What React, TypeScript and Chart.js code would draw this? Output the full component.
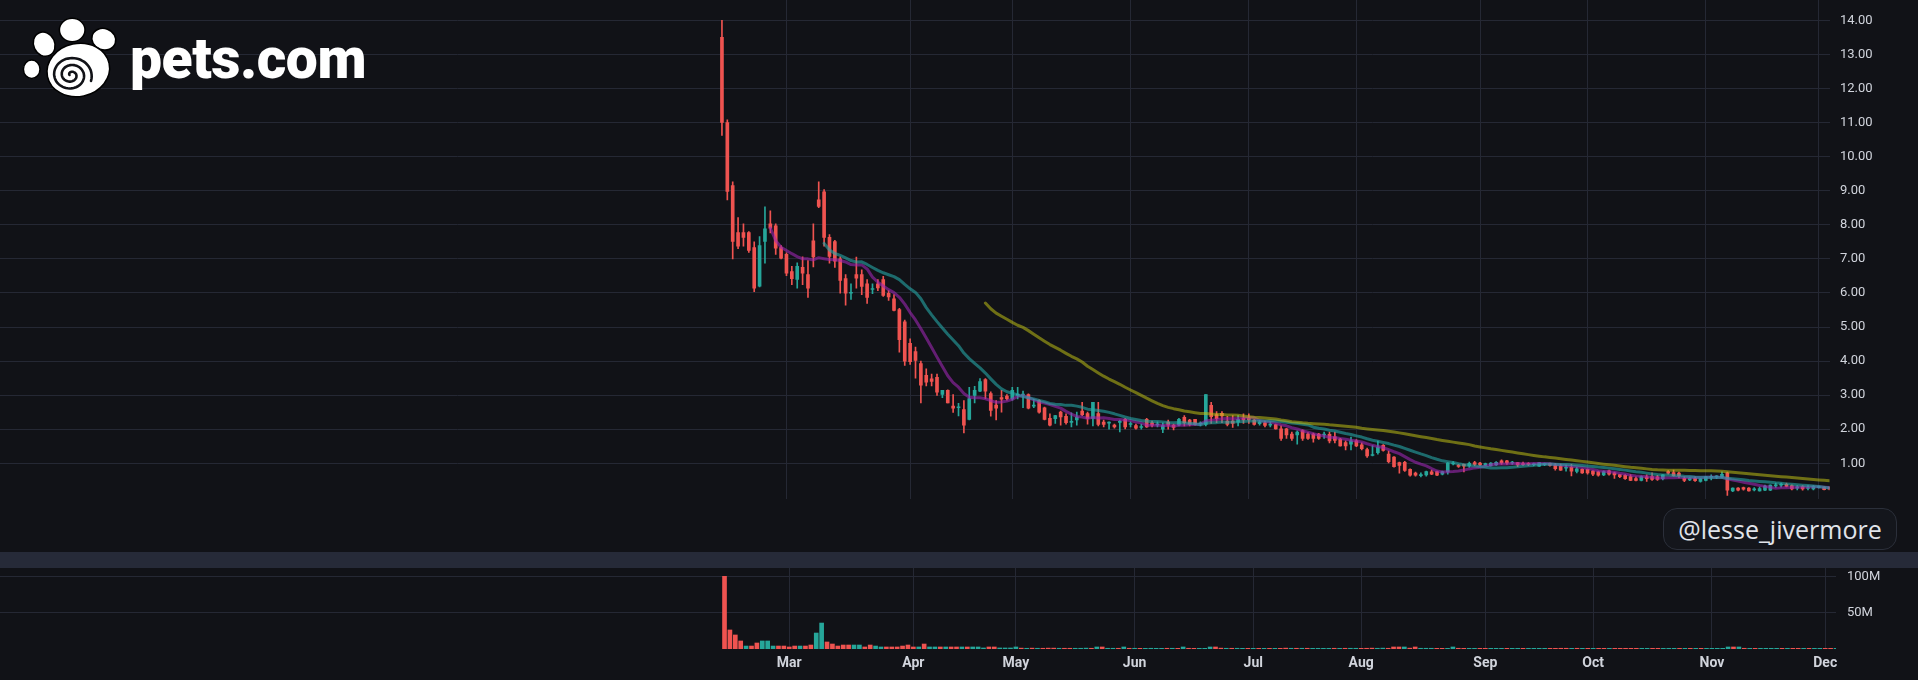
import React, { useEffect, useRef } from 'react';
import { Chart, registerables } from 'chart.js';

Chart.register(...registerables);

const BG = '#111217';
const GRID = '#252834';
const UP = '#26a69a';
const DOWN = '#ef5350';
const TEXT = '#d1d4dc';

const X_MIN = -134.28;
const X_MAX = 206.0;

const monthLabels = ['Mar', 'Apr', 'May', 'Jun', 'Jul', 'Aug', 'Sep', 'Oct', 'Nov', 'Dec'];
const monthStart = [12, 35, 54, 76, 98, 118, 141, 161, 183, 204];
const priceTicks = [1, 2, 3, 4, 5, 6, 7, 8, 9, 10, 11, 12, 13, 14];
const volumeTicks = [50, 100];

const opens = [
  13.50, 11.00, 9.15, 7.77, 7.77, 7.77, 7.33, 6.20, 7.51, 8.03,
  7.97, 7.33, 7.13, 6.63, 6.40, 6.75, 6.54, 7.53, 8.73, 8.97,
  7.63, 7.51, 7.00, 6.42, 5.99, 6.54, 6.54, 6.27, 6.10, 6.27,
  6.39, 5.99, 5.83, 5.51, 5.15, 4.52, 4.28, 3.93, 3.58, 3.48,
  3.52, 3.02, 3.14, 2.68, 2.63, 2.58, 2.29, 2.99, 3.12, 3.46,
  3.05, 2.71, 2.93, 2.97, 2.89, 3.00, 3.00, 3.02, 2.68, 2.84,
  2.63, 2.32, 2.31, 2.50, 2.38, 2.20, 2.27, 2.53, 2.46, 2.32,
  2.46, 2.21, 2.18, 2.12, 2.20, 2.29, 2.14, 2.11, 2.05, 2.29,
  2.19, 2.13, 2.00, 2.21, 2.12, 2.12, 2.35, 2.27, 2.29, 2.16,
  2.14, 2.70, 2.43, 2.47, 2.24, 2.24, 2.21, 2.33, 2.33, 2.27,
  2.16, 2.19, 2.12, 2.14, 2.01, 2.01, 1.86, 1.83, 1.96, 1.86,
  1.86, 1.86, 1.83, 1.85, 1.78, 1.71, 1.61, 1.56, 1.66, 1.54,
  1.40, 1.23, 1.31, 1.53, 1.27, 1.18, 1.02, 1.03, 0.82, 0.71,
  0.64, 0.66, 0.75, 0.76, 0.68, 0.75, 0.98, 0.95, 0.97, 0.93,
  1.02, 1.01, 0.94, 0.93, 0.95, 1.07, 1.07, 1.01, 1.02, 0.99,
  0.99, 0.96, 0.92, 0.96, 1.00, 0.95, 0.92, 0.86, 0.88, 0.76,
  0.82, 0.82, 0.77, 0.75, 0.66, 0.78, 0.72, 0.67, 0.65, 0.61,
  0.55, 0.50, 0.60, 0.61, 0.60, 0.55, 0.76, 0.73, 0.71, 0.56,
  0.51, 0.56, 0.47, 0.50, 0.59, 0.60, 0.59, 0.72, 0.19, 0.27,
  0.29, 0.27, 0.22, 0.19, 0.21, 0.21, 0.34, 0.36, 0.38, 0.35,
  0.27, 0.32, 0.26, 0.25, 0.29, 0.30, 0.30,
];

const highs = [
  14.00, 11.08, 9.26, 8.21, 8.03, 7.80, 7.50, 7.65, 8.53, 8.41,
  8.03, 7.39, 7.18, 6.78, 6.88, 7.06, 6.95, 8.03, 9.26, 9.03,
  7.71, 7.54, 7.06, 6.54, 6.27, 7.05, 6.68, 6.39, 6.27, 6.39,
  6.49, 6.07, 5.95, 5.55, 5.20, 4.65, 4.41, 4.00, 3.77, 3.62,
  3.62, 3.14, 3.16, 3.02, 2.76, 2.84, 3.23, 3.26, 3.49, 3.49,
  3.10, 2.84, 3.14, 3.02, 3.23, 3.23, 3.12, 3.04, 2.88, 2.86,
  2.65, 2.45, 2.41, 2.53, 2.45, 2.48, 2.50, 2.79, 2.50, 2.79,
  2.79, 2.27, 2.22, 2.15, 2.27, 2.32, 2.22, 2.15, 2.15, 2.32,
  2.24, 2.22, 2.19, 2.27, 2.15, 2.32, 2.40, 2.29, 2.29, 2.22,
  3.02, 2.79, 2.52, 2.52, 2.38, 2.40, 2.40, 2.45, 2.45, 2.29,
  2.26, 2.24, 2.22, 2.15, 2.10, 2.03, 1.92, 1.95, 1.98, 1.90,
  1.89, 1.88, 1.92, 1.92, 1.92, 1.73, 1.66, 1.77, 1.70, 1.60,
  1.45, 1.52, 1.65, 1.55, 1.36, 1.20, 1.04, 1.06, 0.84, 0.74,
  0.72, 0.77, 0.80, 0.77, 0.77, 1.02, 1.05, 0.97, 0.98, 1.04,
  1.06, 1.03, 1.01, 1.02, 1.05, 1.10, 1.09, 1.06, 1.03, 1.04,
  1.02, 1.01, 1.02, 1.01, 1.01, 1.00, 0.98, 0.95, 0.97, 0.88,
  0.84, 0.83, 0.79, 0.77, 0.78, 0.80, 0.74, 0.68, 0.67, 0.67,
  0.60, 0.63, 0.66, 0.72, 0.65, 0.67, 0.79, 0.80, 0.74, 0.60,
  0.58, 0.60, 0.56, 0.62, 0.66, 0.64, 0.75, 0.74, 0.28, 0.29,
  0.30, 0.29, 0.29, 0.30, 0.36, 0.37, 0.42, 0.42, 0.42, 0.37,
  0.35, 0.35, 0.35, 0.35, 0.33, 0.31, 0.31,
];

const lows = [
  10.62, 8.73, 7.00, 7.30, 7.37, 7.19, 6.04, 6.18, 6.87, 7.76,
  7.13, 7.00, 6.51, 6.24, 6.14, 6.24, 5.87, 6.76, 8.50, 7.37,
  6.87, 6.75, 5.99, 5.64, 5.81, 6.14, 5.95, 5.69, 5.98, 6.07,
  5.90, 5.78, 5.47, 4.26, 3.87, 3.90, 3.50, 2.77, 3.27, 3.27,
  2.99, 2.93, 2.77, 2.49, 2.39, 1.89, 2.27, 2.77, 3.10, 2.90,
  2.38, 2.27, 2.50, 2.85, 2.85, 2.89, 2.63, 2.60, 2.63, 2.47,
  2.27, 2.10, 2.17, 2.12, 2.15, 2.07, 2.12, 2.40, 2.15, 2.10,
  2.10, 2.07, 2.00, 2.03, 1.92, 2.01, 2.07, 2.00, 2.00, 2.05,
  2.07, 2.07, 1.90, 2.00, 1.98, 2.10, 2.10, 2.10, 2.12, 2.10,
  2.10, 2.17, 2.19, 2.19, 2.10, 2.05, 2.10, 2.17, 2.17, 2.12,
  2.12, 2.07, 2.07, 2.00, 1.67, 1.73, 1.67, 1.56, 1.67, 1.70,
  1.62, 1.70, 1.73, 1.60, 1.60, 1.50, 1.39, 1.39, 1.49, 1.39,
  1.17, 1.22, 1.27, 1.36, 1.01, 0.89, 0.71, 0.76, 0.62, 0.62,
  0.60, 0.62, 0.67, 0.64, 0.66, 0.68, 0.95, 0.88, 0.75, 0.88,
  0.93, 0.93, 0.93, 0.92, 0.94, 0.97, 0.97, 0.97, 0.90, 0.94,
  0.93, 0.93, 0.91, 0.93, 0.92, 0.80, 0.79, 0.77, 0.63, 0.72,
  0.70, 0.68, 0.64, 0.62, 0.64, 0.65, 0.56, 0.58, 0.53, 0.49,
  0.48, 0.48, 0.47, 0.50, 0.50, 0.51, 0.68, 0.62, 0.57, 0.46,
  0.49, 0.47, 0.45, 0.48, 0.51, 0.55, 0.57, 0.06, 0.17, 0.19,
  0.21, 0.18, 0.19, 0.18, 0.20, 0.20, 0.29, 0.30, 0.31, 0.22,
  0.22, 0.21, 0.22, 0.22, 0.27, 0.22, 0.22,
];

const closes = [
  11.00, 8.98, 7.51, 7.37, 7.63, 7.25, 6.14, 7.39, 7.88, 7.90,
  7.31, 7.02, 6.58, 6.42, 6.78, 6.58, 6.14, 7.06, 8.54, 7.63,
  7.07, 6.93, 6.37, 5.99, 6.02, 6.43, 6.19, 5.87, 6.13, 6.15,
  5.93, 5.88, 5.49, 4.63, 4.00, 3.98, 4.02, 3.29, 3.38, 3.40,
  3.09, 3.14, 2.77, 2.62, 2.65, 2.12, 2.90, 3.14, 3.40, 3.12,
  2.55, 2.62, 2.88, 2.90, 3.14, 3.02, 3.03, 2.62, 2.71, 2.50,
  2.29, 2.12, 2.40, 2.36, 2.19, 2.22, 2.36, 2.43, 2.32, 2.79,
  2.14, 2.14, 2.20, 2.07, 2.22, 2.07, 2.16, 2.03, 2.07, 2.07,
  2.12, 2.15, 2.11, 2.12, 2.05, 2.29, 2.19, 2.14, 2.14, 2.18,
  3.02, 2.37, 2.31, 2.39, 2.14, 2.17, 2.29, 2.27, 2.27, 2.14,
  2.21, 2.11, 2.14, 2.01, 1.73, 1.83, 1.73, 1.92, 1.73, 1.73,
  1.73, 1.73, 1.85, 1.66, 1.67, 1.51, 1.51, 1.66, 1.51, 1.43,
  1.22, 1.26, 1.48, 1.38, 1.05, 0.90, 0.94, 0.79, 0.65, 0.65,
  0.67, 0.76, 0.68, 0.65, 0.76, 1.01, 1.00, 0.91, 0.92, 1.00,
  0.97, 0.95, 0.99, 1.01, 1.03, 1.01, 1.01, 1.03, 0.95, 0.96,
  0.97, 0.98, 1.02, 0.98, 0.94, 0.84, 0.80, 0.88, 0.77, 0.84,
  0.72, 0.72, 0.68, 0.65, 0.76, 0.68, 0.66, 0.61, 0.55, 0.50,
  0.50, 0.61, 0.55, 0.53, 0.53, 0.66, 0.71, 0.64, 0.64, 0.50,
  0.56, 0.49, 0.55, 0.60, 0.61, 0.61, 0.68, 0.21, 0.27, 0.21,
  0.24, 0.19, 0.23, 0.26, 0.33, 0.36, 0.35, 0.37, 0.32, 0.25,
  0.31, 0.25, 0.28, 0.32, 0.30, 0.23, 0.24,
];

// volume in millions of shares
const volumes = [
  100.5, 26.3, 19.4, 11.1, 4.1, 4.1, 8.3, 11.1, 11.1, 4.1,
  4.1, 4.1, 2.8, 4.1, 4.1, 4.1, 5.5, 22.1, 35.9, 9.7,
  6.9, 4.1, 5.5, 5.5, 5.5, 5.5, 2.8, 5.5, 4.1, 2.8,
  2.8, 2.8, 2.8, 4.1, 5.5, 2.8, 2.8, 6.9, 2.8, 2.8,
  2.8, 2.8, 2.8, 2.8, 2.8, 2.8, 2.8, 2.8, 1.4, 2.8,
  2.8, 1.4, 1.4, 1.4, 2.8, 1.2, 1.0, 1.2, 1.0, 1.0,
  1.2, 1.2, 1.0, 1.0, 1.0, 1.0, 1.0, 1.2, 1.0, 2.8,
  2.8, 1.0, 1.0, 1.0, 2.8, 1.0, 1.0, 0.9, 0.9, 1.0,
  0.9, 0.9, 1.0, 1.0, 0.9, 2.8, 1.0, 0.9, 0.9, 0.9,
  2.8, 2.8, 1.2, 1.0, 1.0, 1.0, 0.9, 0.9, 0.9, 0.9,
  0.9, 0.9, 0.9, 0.9, 1.2, 1.0, 1.0, 1.0, 1.0, 0.9,
  0.9, 0.9, 0.9, 1.0, 0.9, 1.0, 1.0, 1.0, 0.9, 1.0,
  1.2, 1.0, 1.2, 1.0, 2.8, 2.8, 2.8, 1.2, 2.8, 1.0,
  1.0, 1.0, 0.9, 0.9, 0.9, 2.8, 1.0, 0.9, 0.9, 0.9,
  0.9, 0.9, 0.9, 0.9, 0.9, 0.9, 0.9, 0.9, 0.9, 0.9,
  0.9, 0.9, 0.9, 0.9, 0.9, 1.0, 1.0, 0.9, 1.0, 0.9,
  0.9, 0.9, 0.9, 0.9, 0.9, 0.9, 0.9, 0.9, 0.9, 0.9,
  0.9, 0.9, 0.9, 0.9, 0.9, 0.9, 0.9, 0.9, 0.9, 0.9,
  0.9, 0.9, 0.9, 0.9, 0.9, 0.9, 2.8, 2.8, 2.8, 1.0,
  0.9, 0.9, 0.9, 0.9, 0.9, 0.9, 0.9, 0.9, 0.9, 0.9,
  0.9, 0.9, 0.9, 0.9, 0.9, 0.9, 0.9,
];

const maPeriods = { fast: 10, mid: 20, slow: 50 };

function sma(values: number[], n: number) {
  const out: { x: number; y: number }[] = [];
  for (let i = n - 1; i < values.length; i++) {
    let s = 0;
    for (let k = i - n + 1; k <= i; k++) s += values[k];
    out.push({ x: i, y: s / n });
  }
  return out;
}

const zeroPad = (s: any) => {
  s.paddingLeft = 0;
  s.paddingRight = 0;
  s.paddingTop = 0;
  s.paddingBottom = 0;
};

function spiralPath() {
  let d = '';
  const steps = 140;
  for (let k = 0; k <= steps; k++) {
    const t = (k / steps) * 2.55 * 2 * Math.PI;
    const r = 1.5 + t * 1.22;
    const x = 71 + r * Math.cos(t + Math.PI);
    const y = 75 + r * Math.sin(t + Math.PI) * 0.9;
    d += (k ? 'L' : 'M') + x.toFixed(1) + ',' + y.toFixed(1);
  }
  return d;
}

export default function App() {
  const priceRef = useRef<HTMLCanvasElement>(null);
  const volRef = useRef<HTMLCanvasElement>(null);

  useEffect(() => {
    const idx = closes.map((_, i) => i);
    const candleColors = idx.map((i) => (closes[i] >= opens[i] ? UP : DOWN));
    const volColors = idx.map((i) =>
      i === 0 ? candleColors[0] : closes[i] >= closes[i - 1] ? UP : DOWN
    );
    const bodies = idx.map((i) => ({ x: i, y: [Math.min(opens[i], closes[i]), Math.max(opens[i], closes[i])] }));
    const wicks = idx.map((i) => ({ x: i, y: [lows[i], highs[i]] }));
    const vols = idx.map((i) => ({ x: i, y: volumes[i] }));

    const lineDs = (data: any, color: string) => ({
      type: 'line' as const,
      data,
      borderColor: color,
      borderWidth: 3,
      pointRadius: 0,
      tension: 0,
      borderJoinStyle: 'round' as const,
      borderCapStyle: 'round' as const,
      order: 0,
    });

    const price = new Chart(priceRef.current!, {
      type: 'bar',
      data: {
        datasets: [
          lineDs(sma(closes, maPeriods.slow), 'rgba(190,190,20,0.55)'),
          lineDs(sma(closes, maPeriods.mid), 'rgba(38,166,166,0.6)'),
          lineDs(sma(closes, maPeriods.fast), 'rgba(156,39,176,0.6)'),
          {
            type: 'bar',
            data: bodies as any,
            backgroundColor: candleColors,
            barThickness: 3,
            grouped: false,
            minBarLength: 1,
            order: 1,
          },
          {
            type: 'bar',
            data: wicks as any,
            backgroundColor: candleColors,
            barThickness: 1,
            grouped: false,
            order: 2,
          },
        ] as any,
      },
      options: {
        animation: false,
        responsive: false,
        maintainAspectRatio: false,
        layout: { padding: 0 },
        plugins: { legend: { display: false }, tooltip: { enabled: false } },
        scales: {
          x: {
            type: 'linear',
            min: X_MIN,
            max: X_MAX,
            offset: false,
            grid: { color: GRID, drawTicks: false, offset: false },
            border: { display: false },
            ticks: { display: false, autoSkip: false },
            afterBuildTicks: (s: any) => {
              s.ticks = monthStart.map((v) => ({ value: v }));
            },
            afterFit: (s: any) => {
              s.height = 0;
              zeroPad(s);
            },
          },
          y: {
            type: 'linear',
            position: 'right',
            min: -0.047,
            max: 14.596,
            grid: { color: GRID, drawTicks: false },
            border: { display: false },
            ticks: {
              color: TEXT,
              font: { family: 'Roboto', size: 13 },
              padding: 10.5,
              autoSkip: false,
              callback: (v: any) => Number(v).toFixed(2),
            },
            afterBuildTicks: (s: any) => {
              s.ticks = priceTicks.map((v) => ({ value: v }));
            },
            afterFit: (s: any) => {
              s.width = 88.5;
              zeroPad(s);
            },
          },
        },
      } as any,
    });

    const vol = new Chart(volRef.current!, {
      type: 'bar',
      data: {
        datasets: [
          {
            data: vols as any,
            backgroundColor: volColors,
            barThickness: 4,
            grouped: false,
          },
        ],
      },
      options: {
        animation: false,
        responsive: false,
        maintainAspectRatio: false,
        layout: { padding: 0 },
        plugins: { legend: { display: false }, tooltip: { enabled: false } },
        scales: {
          x: {
            type: 'linear',
            min: X_MIN,
            max: X_MAX,
            offset: false,
            grid: { color: GRID, drawTicks: false, offset: false },
            border: { display: false },
            ticks: {
              color: TEXT,
              font: { family: 'Roboto', size: 14, weight: 'bold' },
              padding: 6,
              autoSkip: false,
              maxRotation: 0,
              callback: (_v: any, i: number) => monthLabels[i],
            },
            afterBuildTicks: (s: any) => {
              s.ticks = monthStart.map((v) => ({ value: v }));
            },
            afterFit: (s: any) => {
              s.height = 31;
              zeroPad(s);
            },
          },
          y: {
            type: 'linear',
            position: 'right',
            min: 0,
            max: 112,
            grid: { color: GRID, drawTicks: false },
            border: { display: false },
            ticks: {
              color: TEXT,
              font: { family: 'Roboto', size: 13 },
              padding: 11,
              autoSkip: false,
              callback: (v: any) => `${v}M`,
            },
            afterBuildTicks: (s: any) => {
              s.ticks = volumeTicks.map((v) => ({ value: v }));
            },
            afterFit: (s: any) => {
              s.width = 82;
              zeroPad(s);
            },
          },
        },
      } as any,
    });

    return () => {
      price.destroy();
      vol.destroy();
    };
  }, []);

  return (
    <div
      style={{
        position: 'absolute',
        left: 0,
        top: 0,
        width: 1918,
        height: 680,
        background: BG,
        overflow: 'hidden',
      }}
    >
      <canvas
        ref={priceRef}
        width={1918}
        height={499}
        style={{ position: 'absolute', left: 0, top: 0, width: 1918, height: 499, display: 'block' }}
      />
      <div style={{ position: 'absolute', left: 0, top: 552, width: 1918, height: 16, background: '#262a38' }} />
      <canvas
        ref={volRef}
        width={1918}
        height={112}
        style={{ position: 'absolute', left: 0, top: 568, width: 1918, height: 112, display: 'block' }}
      />
      <svg width={420} height={110} style={{ position: 'absolute', left: 0, top: 0 }}>
        <g fill="#ffffff" stroke="#000000" strokeWidth={1.5}>
          <ellipse cx={31.7} cy={69.2} rx={8.3} ry={9.2} />
          <ellipse cx={44.2} cy={44.2} rx={10.6} ry={12.4} transform="rotate(-25 44.2 44.2)" />
          <ellipse cx={72.2} cy={30} rx={12.8} ry={11.7} />
          <ellipse cx={103.8} cy={39.2} rx={12.2} ry={10.6} transform="rotate(20 103.8 39.2)" />
          <ellipse cx={78.3} cy={70} rx={31.5} ry={26.5} transform="rotate(-12 78.3 70)" />
        </g>
        <path d={spiralPath()} fill="none" stroke="#111217" strokeWidth={2.6} strokeLinecap="round" />
        <text
          x={130}
          y={78}
          fill="#ffffff"
          style={{ fontFamily: 'Roboto', fontWeight: 900, fontSize: 57, letterSpacing: '-0.5px' }}
        >
          pets.com
        </text>
      </svg>
      <div
        style={{
          position: 'absolute',
          left: 1663,
          top: 508,
          width: 234,
          height: 42,
          boxSizing: 'border-box',
          border: '1px solid #2b2f3a',
          borderRadius: 14,
          background: '#14161c',
          color: '#e1e4ea',
          fontFamily: 'Open Sans',
          fontSize: 25,
          display: 'flex',
          alignItems: 'center',
          justifyContent: 'center',
          whiteSpace: 'nowrap',
        }}
      >
        @lesse_jivermore
      </div>
    </div>
  );
}
